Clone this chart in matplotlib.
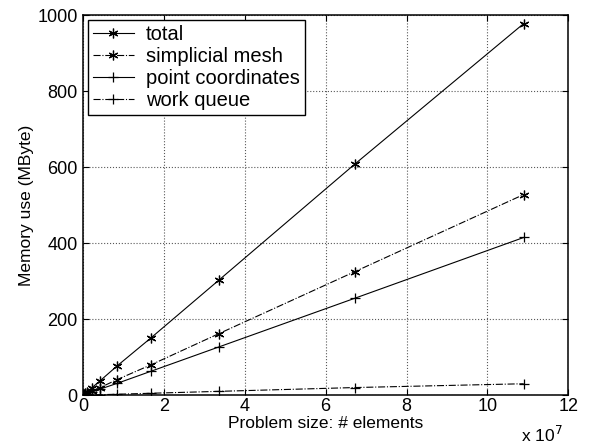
import matplotlib
matplotlib.use('Agg')
import matplotlib.pyplot as plt
import numpy as np

plt.rcParams['font.family'] = ['Liberation Sans', 'DejaVu Sans']
plt.rcParams['font.size'] = 12

# problem sizes (units of 1e7 elements)
sizes = [0.013, 0.026, 0.0525, 0.105, 0.21, 0.42, 0.84, 1.68, 3.36, 6.72, 10.9]

total = [1.2, 2.4, 4.8, 9.5, 19, 38, 77, 151, 303, 608, 978]
mesh = [0.6, 1.3, 2.6, 5.1, 10, 20, 41, 80, 162, 325, 528]
coords = [0.5, 1.0, 2.0, 4.0, 8, 16, 31, 63, 127, 255, 415]
queue = [0.04, 0.08, 0.15, 0.3, 0.6, 1.2, 2.4, 5, 10, 20, 30]

labels = ['total', 'simplicial mesh', 'point coordinates', 'work queue']

star = (6, 2, 0)

fig = plt.figure(figsize=(5.9, 4.47), dpi=100)
ax = fig.add_axes([0.141, 0.116, 0.822, 0.85])

ax.plot(sizes, total, 'k-', marker=star, markersize=7, markeredgewidth=0.9, linewidth=0.8, label=labels[0])
ax.plot(sizes, mesh, 'k-.', marker=star, markersize=7, markeredgewidth=0.9, linewidth=0.8, label=labels[1])
ax.plot(sizes, coords, 'k-', marker='+', markersize=7, markeredgewidth=0.9, linewidth=0.8, label=labels[2])
ax.plot(sizes, queue, 'k-.', marker='+', markersize=7, markeredgewidth=0.9, linewidth=0.8, label=labels[3])

ax.set_xlim(0, 12)
ax.set_ylim(0, 1000)
ax.set_xticks(np.arange(0, 13, 2))
ax.set_yticks(np.arange(0, 1001, 200))
ax.grid(True, linestyle=':', color='0.35', linewidth=0.8)
ax.tick_params(direction='in', top=True, right=True, length=4, labelsize=13, pad=4)
ax.tick_params(axis='x', pad=2)
for s in ax.spines.values():
    s.set_linewidth(1.1)

ax.set_xlabel('Problem size: # elements', fontsize=12.5, labelpad=1)
ax.set_ylabel('Memory use (MByte)', fontsize=12.5, labelpad=2)
fig.text(0.953, 0.011, 'x 10$^7$', ha='right', va='baseline', fontsize=12.5)

leg = ax.legend(loc='upper left', fontsize=14.5, fancybox=False, edgecolor='k',
                framealpha=1, borderaxespad=0.25, handlelength=2.0,
                handletextpad=0.6, labelspacing=0.15, borderpad=0.25)
leg.get_frame().set_linewidth(1.0)

fig.savefig('out.png', dpi=100)
